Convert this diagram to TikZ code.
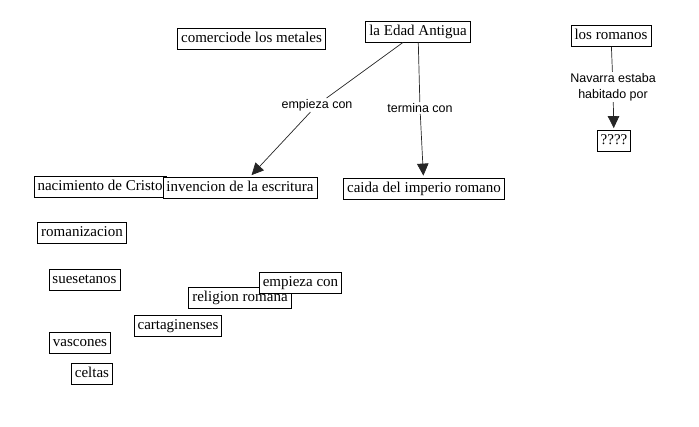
\documentclass[tikz,border=0pt]{standalone}
\usepackage{fontspec}
\setmainfont{Liberation Serif}
\setsansfont{Liberation Sans}
\usetikzlibrary{arrows.meta}

\tikzset{
  concept/.style={draw=black, fill=white, line width=0.8pt, font=\fontsize{15}{17}\selectfont,
    inner xsep=3.5pt, inner ysep=3.5pt, text height=10.5pt, text depth=3.5pt},
  linkword/.style={font=\sffamily\fontsize{12.5}{16}\selectfont, inner sep=1pt, align=center},
  link/.style={draw=black!85, line width=0.7pt},
  linkarrow/.style={link, -{Triangle[length=12pt,width=11.5pt]}, shorten >=2pt}
}

\begin{document}
\begin{tikzpicture}[x=1pt, y=-1pt]
  \useasboundingbox (0,0) rectangle (699,426);
  % top row
  \node[concept] (metales) at (251.5,39) {comerciode los metales};
  \node[concept] (edad) at (418,31.5) {la Edad Antigua};
  \node[concept] (romanos) at (611,36) {los romanos};
  % link words
  \node[linkword] (empieza) at (317,105) {empieza con};
  \node[linkword] (termina) at (420,108) {termina con};
  \node[linkword] (navarra) at (613,87) {Navarra estaba\\habitado por};
  \node[concept] (interrog) at (614,141) {????};
  % middle row
  \node[concept] (cristo) at (100,186.5) {nacimiento de Cristo};
  \node[concept] (invencion) at (240,187.5) {invencion de la escritura};
  \node[concept] (caida) at (424,188.5) {caida del imperio romano};
  % loose concepts
  \node[concept] (romanizacion) at (82,233) {romanizacion};
  \node[concept] (suesetanos) at (84.5,280) {suesetanos};
  \node[concept] (religion) at (240,297.5) {religion romana};
  \node[concept] (empiezabox) at (300.5,282.5) {empieza con};
  \node[concept] (cartagineses) at (178,325.5) {cartaginenses};
  \node[concept] (vascones) at (80,342.5) {vascones};
  \node[concept] (celtas) at (92,374) {celtas};
  % connectors
  \draw[link] (edad) -- (empieza);
  \draw[linkarrow] (empieza) -- (invencion);
  \draw[link] (edad) -- (termina);
  \draw[linkarrow] (termina) -- (caida);
  \draw[link] (romanos) -- (navarra);
  \draw[linkarrow] (navarra) -- (interrog);
\end{tikzpicture}
\end{document}
